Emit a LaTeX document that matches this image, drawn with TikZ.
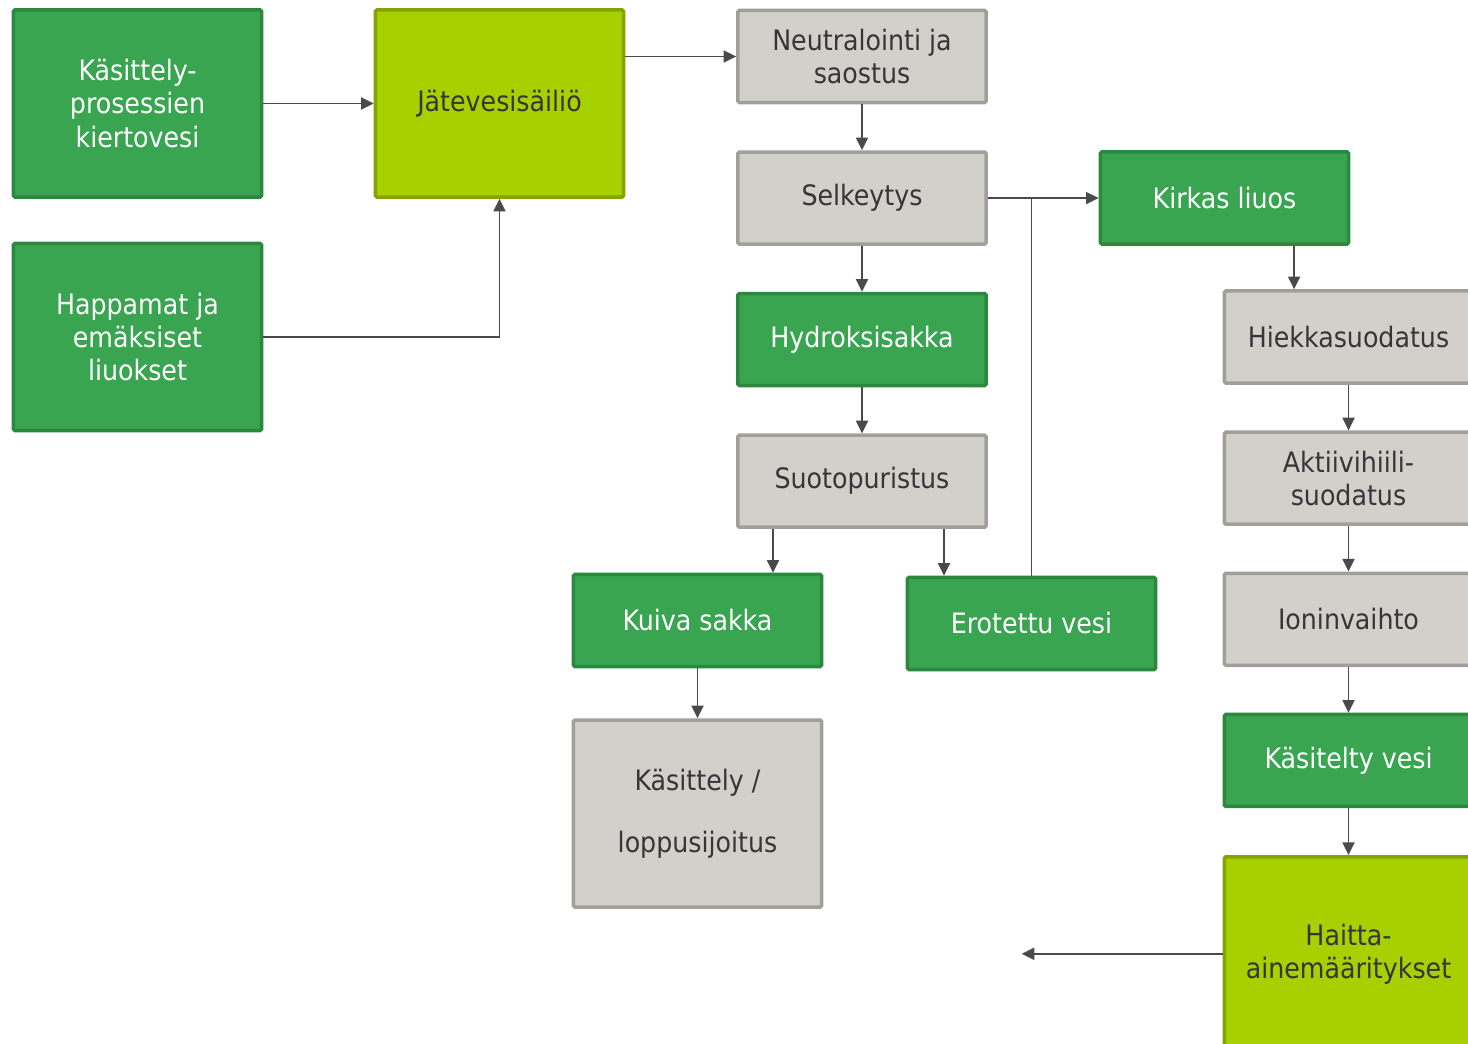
\documentclass[tikz,border=0pt]{standalone}
\usepackage{fontspec}
\setmainfont{DejaVu Sans Condensed}
\usepackage{xcolor}
\usetikzlibrary{arrows.meta,positioning}

\definecolor{boxgreen}{HTML}{39A551}
\definecolor{boxgreenline}{HTML}{2A893E}
\definecolor{boxlime}{HTML}{A8D000}
\definecolor{boxlimeline}{HTML}{85A200}
\definecolor{boxgray}{HTML}{D1D0CB}
\definecolor{boxgrayline}{HTML}{A09F9A}
\definecolor{linkgray}{HTML}{4A4A4A}
\definecolor{textgray}{HTML}{363636}

\begin{document}
\begin{tikzpicture}[
    x=0.025cm, y=-0.025cm,
    node distance=1.14cm,
    every node/.style={draw, line width=2.5pt, rounded corners=1pt, minimum width=6.2cm, minimum height=2.3cm, align=center, inner sep=2pt, font=\fontsize{20}{23.5}\selectfont},
    greenbox/.style={fill=boxgreen, draw=boxgreenline, text=white},
    limebox/.style={fill=boxlime, draw=boxlimeline, text=textgray},
    graybox/.style={fill=boxgray, draw=boxgrayline, text=textgray},
    tall/.style={minimum height=4.675cm},
    link/.style={draw=linkgray, line width=1.4pt, -{Triangle[length=9pt,width=8.5pt]}}
]
\useasboundingbox (0,0) rectangle (1468,1044);

% Inputs and tank
\node[greenbox, tall] (kierto) at (137.5,103.5) {Käsittely-\\prosessien\\kiertovesi};
\node[greenbox, tall] (happo) at (137.5,337) {Happamat ja\\emäksiset\\liuokset};
\node[limebox, tall] (sailio) at (499.5,103.5) {Jätevesisäiliö};

% Precipitation line
\node[graybox] (neutr) at (862,56.5) {Neutralointi ja\\saostus};
\node[graybox, below=1.15cm of neutr] (selk) {Selkeytys};
\node[greenbox, below=1.15cm of selk] (hydro) {Hydroksisakka};
\node[graybox, below=1.15cm of hydro] (suoto) {Suotopuristus};
\node[greenbox] (kuiva) at (697.5,620.5) {Kuiva sakka};
\node[greenbox] (erot) at (1031.5,623.5) {Erotettu vesi};
\node[graybox, tall, below=1.25cm of kuiva] (loppu) {Käsittely /\\[21pt]loppusijoitus};

% Clear solution line
\node[greenbox] (kirkas) at (1224.5,198) {Kirkas liuos};
\node[graybox] (hiekka) at (1348.5,337) {Hiekkasuodatus};
\node[graybox, below=of hiekka] (aktiivi) {Aktiivihiili-\\suodatus};
\node[graybox, below=of aktiivi] (ioni) {Ioninvaihto};
\node[greenbox, below=of ioni] (kasvesi) {Käsitelty vesi};
\node[limebox, tall, minimum height=4.85cm, below=1.17cm of kasvesi] (haitta) {Haitta-\\ainemääritykset};
\coordinate[left=5.025cm of haitta.west] (tulos);

% Connections
\draw[link] (kierto) -- (sailio);
\draw[link] (happo.east) -| (sailio.south);
\draw[link] (sailio.east |- neutr) -- (neutr);
\draw[link] (neutr) -- (selk);
\draw[link] (selk.east) -- (selk.east -| kirkas.west);
\draw[draw=linkgray, line width=1.4pt] (erot.north) -- (erot.north |- selk.east);
\draw[link] (selk) -- (hydro);
\draw[link] (hydro) -- (suoto);
\draw[link] ([xshift=-2.225cm]suoto.south) -- ([xshift=-2.225cm]suoto.south |- kuiva.north);
\draw[link] ([xshift=2.05cm]suoto.south) -- ([xshift=2.05cm]suoto.south |- erot.north);
\draw[link] (kuiva) -- (loppu);

\draw[link] ([xshift=1.74cm]kirkas.south) -- ([xshift=1.74cm]kirkas.south |- hiekka.north);
\draw[link] (hiekka) -- (aktiivi);
\draw[link] (aktiivi) -- (ioni);
\draw[link] (ioni) -- (kasvesi);
\draw[link] (kasvesi) -- (haitta);
\draw[link] (haitta.west) -- (tulos);

\end{tikzpicture}
\end{document}
